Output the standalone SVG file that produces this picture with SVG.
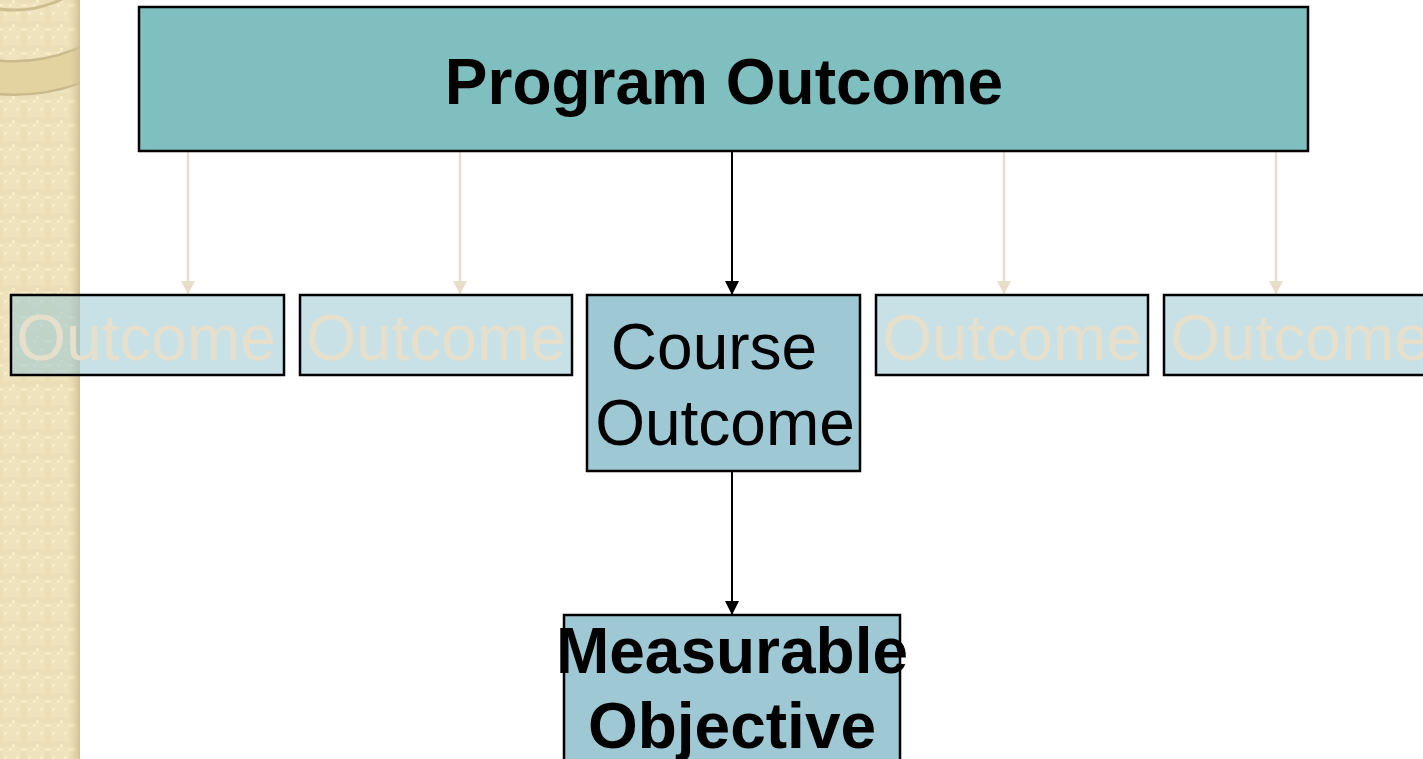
<svg xmlns="http://www.w3.org/2000/svg" width="1423" height="759" viewBox="0 0 1423 759">
<defs>
<pattern id="weave" x="0" y="0" width="24" height="24" patternUnits="userSpaceOnUse">
<rect width="24" height="24" fill="#ecdfb8"/>
<rect x="3" y="3" width="18" height="18" fill="#efe3be"/>
<rect x="0" y="4" width="3" height="3" fill="#f7ebc8"/>
<rect x="9" y="4" width="3" height="3" fill="#f7ebc8"/>
<rect x="12" y="0" width="3" height="3" fill="#f7ebc8"/>
<rect x="21" y="4" width="3" height="3" fill="#f7ebc8"/>
<rect x="4" y="12" width="3" height="3" fill="#f7ebc8"/>
<rect x="16" y="12" width="3" height="3" fill="#f7ebc8"/>
</pattern>
<linearGradient id="edge" x1="0" y1="0" x2="1" y2="0">
<stop offset="0" stop-color="#d6c697" stop-opacity="0"/>
<stop offset="1" stop-color="#cdbd90" stop-opacity="0.9"/>
</linearGradient>
<clipPath id="stripClip"><rect x="0" y="0" width="80" height="759"/></clipPath>
<marker id="arrLight" markerWidth="14" markerHeight="14" refX="14" refY="7" orient="auto" markerUnits="userSpaceOnUse" viewBox="0 0 14 14">
<path d="M0,0 L14,7 L0,14 Z" fill="#e6dfcc"/>
</marker>
<marker id="arrDark" markerWidth="14" markerHeight="14" refX="14" refY="7" orient="auto" markerUnits="userSpaceOnUse" viewBox="0 0 14 14">
<path d="M0,0 L14,7 L0,14 Z" fill="#000"/>
</marker>
</defs>
<style>
.box { stroke: #000; stroke-width: 2.5; }
.faded { fill: #9bc8d4; fill-opacity: 0.55; }
.main { fill: #9dc8d4; }
.top { fill: #80bfbf; }
.ftxt { font-family: "Liberation Sans", Arial, sans-serif; font-size: 64px; fill: #e6dfcc; text-anchor: middle; }
.txt { font-family: "Liberation Sans", Arial, sans-serif; font-size: 64px; fill: #000; text-anchor: middle; }
.btxt { font-family: "Liberation Sans", Arial, sans-serif; font-size: 64px; font-weight: bold; fill: #000; text-anchor: middle; }
.light { stroke: #e6dfcc; stroke-width: 2.5; fill: none; }
.dark { stroke: #000; stroke-width: 2; fill: none; }
</style>
<rect width="1423" height="759" fill="#fff"/>
<g id="background">
<rect x="0" y="0" width="80" height="759" fill="url(#weave)"/>
<g clip-path="url(#stripClip)">
<circle cx="14" cy="-100" r="178" fill="none" stroke="#c9b98c" stroke-width="36"/>
<circle cx="14" cy="-100" r="178" fill="none" stroke="#e3d3a0" stroke-width="31"/>
<circle cx="14" cy="-100" r="110" fill="none" stroke="#cdbd90" stroke-width="3"/>
</g>
<rect x="70" y="0" width="10" height="759" fill="url(#edge)"/>
</g>
<g id="connectors">
<line class="light" x1="188" y1="151" x2="188" y2="295" marker-end="url(#arrLight)"/>
<line class="light" x1="460" y1="151" x2="460" y2="295" marker-end="url(#arrLight)"/>
<line class="dark" x1="732" y1="151" x2="732" y2="295" marker-end="url(#arrDark)"/>
<line class="light" x1="1004" y1="151" x2="1004" y2="295" marker-end="url(#arrLight)"/>
<line class="light" x1="1276" y1="151" x2="1276" y2="295" marker-end="url(#arrLight)"/>
<line class="dark" x1="732" y1="471" x2="732" y2="615" marker-end="url(#arrDark)"/>
</g>
<g id="program-outcome">
<rect class="box top" x="139" y="7" width="1169" height="144"/>
<text class="btxt" x="724" y="104">Program Outcome</text>
</g>
<g id="outcome-1">
<rect class="box faded" x="11" y="295" width="273" height="80"/>
<text class="ftxt" x="146" y="360">Outcome</text>
</g>
<g id="outcome-2">
<rect class="box faded" x="300" y="295" width="272" height="80"/>
<text class="ftxt" x="436" y="360">Outcome</text>
</g>
<g id="course-outcome">
<rect class="box main" x="587" y="295" width="273" height="176"/>
<text class="txt" x="714" y="369">Course</text>
<text class="txt" x="725" y="445">Outcome</text>
</g>
<g id="outcome-4">
<rect class="box faded" x="876" y="295" width="272" height="80"/>
<text class="ftxt" x="1012" y="360">Outcome</text>
</g>
<g id="outcome-5">
<rect class="box faded" x="1164" y="295" width="272" height="80"/>
<text class="ftxt" x="1300" y="360">Outcome</text>
</g>
<g id="measurable-objective">
<rect class="box main" x="564" y="615" width="336" height="160"/>
<text class="btxt" x="732" y="673">Measurable</text>
<text class="btxt" x="732" y="748">Objective</text>
</g>
</svg>
